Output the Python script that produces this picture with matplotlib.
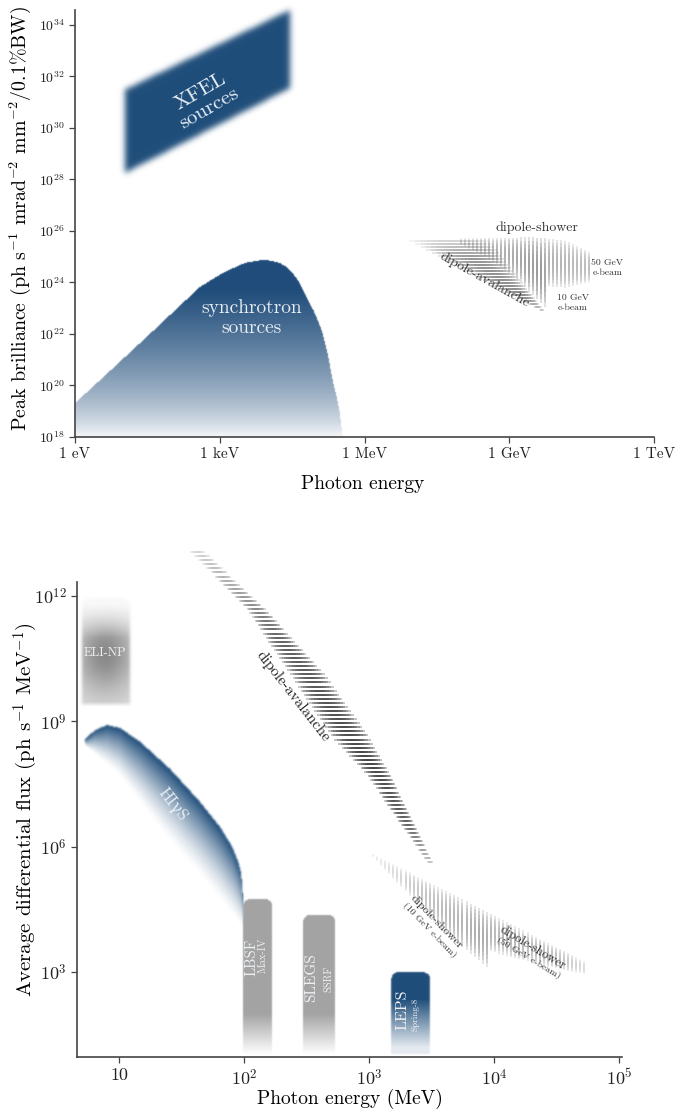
import numpy as np
import matplotlib
matplotlib.use("Agg")
import matplotlib.pyplot as plt
from matplotlib.path import Path
from matplotlib.collections import LineCollection

plt.rcParams['font.family'] = 'serif'
plt.rcParams['font.serif'] = ['cmr10']
plt.rcParams['mathtext.fontset'] = 'cm'
plt.rcParams['axes.unicode_minus'] = False
plt.rcParams['axes.formatter.use_mathtext'] = True

BLUE = np.array([31, 77, 122]) / 255.0
GRAY = np.array([0.64, 0.64, 0.64])

# ---------------- top panel: peak brilliance (log10 of eV, log10 of brilliance)
xfel_logE = [1.03, 4.45, 4.45, 1.03]
xfel_logB = [31.48, 34.58, 31.55, 28.25]

sync_logE = [0.0, 0.52, 1.55, 2.59, 3.10, 3.52, 3.87, 4.06, 4.24, 4.40, 4.51, 4.66, 4.80,
             4.96, 5.11, 5.23, 5.34, 5.42, 5.48, 5.55]
sync_logB = [19.32, 20.21, 22.0, 23.83, 24.41, 24.76, 24.87, 24.85, 24.76, 24.58, 24.37, 23.97, 23.44,
             22.85, 22.16, 21.3, 20.21, 19.6, 19.05, 18.0]

# dipole-avalanche (horizontal hatch) edges
aval1_logB = [22.95, 25.62]
aval1_left = [9.62, 6.93]
aval1_right = [9.72, 8.59]
# dipole-shower (vertical hatch) edges
shower1_top_logE = [8.0, 9.0, 9.5, 10.2, 10.66]
shower1_top_logB = [25.72, 25.74, 25.76, 25.62, 25.2]
shower1_10_logE = [8.0, 8.6, 9.2, 9.6, 9.75]
shower1_10_bot = [25.45, 24.9, 24.1, 23.3, 23.05]
shower1_50_logE = [9.8, 10.2, 10.66]
shower1_50_bot = [23.85, 23.8, 24.0]

top_xticks = [1, 1e3, 1e6, 1e9, 1e12]
top_xlabels = ['1 eV', '1 keV', '1 MeV', '1 GeV', '1 TeV']
top_yexp = [18, 20, 22, 24, 26, 28, 30, 32, 34]

# ---------------- bottom panel: average flux (log10 of MeV, log10 of flux)
eli_logE = [0.70, 1.09]
eli_logF = [9.35, 11.95]

higs_up_logE = [0.728, 0.808, 0.904, 1.008, 1.168, 1.408, 1.648, 1.808, 1.904, 1.952, 1.976, 1.990]
higs_up_logF = [8.56, 8.79, 8.91, 8.84, 8.51, 7.86, 7.07, 6.47, 6.00, 5.64, 5.35, 4.75]
higs_lo_logE = [0.728, 1.008, 1.384, 1.688, 1.992]
higs_lo_logF = [8.40, 7.67, 6.19, 5.16, 4.03]

bar_names = ['LBSF', 'SLEGS', 'LEPS']
bar_sites = ['Max-IV', 'SSRF', 'Spring-8']
bar_lo_logE = [1.992, 2.472, 3.176]
bar_hi_logE = [2.224, 2.728, 3.48]
bar_top_logF = [4.75, 4.37, 3.0]
bar_bot_logF = 1.04

aval2_logF = [13.05, 11.69, 10.11, 8.67, 7.72, 6.67, 5.64]
aval2_left = [1.57, 2.02, 2.37, 2.69, 2.98, 3.22, 3.46]
aval2_right = [1.69, 2.17, 2.65, 2.99, 3.17, 3.34, 3.51]

shower2_top_logE = [3.03, 4.73]
shower2_top_logF = [5.83, 3.24]
shower2_10_logE = [3.03, 3.3, 3.6, 3.85, 3.97]
shower2_10_bot = [5.75, 4.9, 3.95, 3.35, 3.05]
shower2_50_logE = [3.97, 4.4, 4.72]
shower2_50_bot = [3.5, 3.15, 2.95]

bot_xticks = [10, 1e2, 1e3, 1e4, 1e5]
bot_xlabels = ['10', r'$10^{2}$', r'$10^{3}$', r'$10^{4}$', r'$10^{5}$']
bot_yexp = [3, 6, 9, 12]


def disp(ax, lx, ly):
    lx = np.atleast_1d(np.asarray(lx, float))
    ly = np.atleast_1d(np.asarray(ly, float))
    return ax.transData.transform(np.column_stack([10.0**lx, 10.0**ly]))


def blur(a, s):
    if s <= 0:
        return a
    r = int(np.ceil(3 * s))
    k = np.exp(-0.5 * (np.arange(-r, r + 1) / s) ** 2)
    k /= k.sum()
    a = np.apply_along_axis(np.convolve, 0, a, k, mode='same')
    a = np.apply_along_axis(np.convolve, 1, a, k, mode='same')
    return a


def paint(ax, poly, shade, sigma=0.8, z=1):
    '''rasterise a polygon (display px) with a soft edge and a colour function'''
    pad = 3 * sigma + 3
    x0, y0 = np.floor(poly.min(0) - pad)
    x1, y1 = np.ceil(poly.max(0) + pad)
    nx, ny = int(x1 - x0), int(y1 - y0)
    X, Y = np.meshgrid(x0 + np.arange(nx) + 0.5, y0 + np.arange(ny) + 0.5)
    inside = Path(poly).contains_points(np.column_stack([X.ravel(), Y.ravel()]))
    mask = blur(inside.reshape(ny, nx).astype(float), sigma)
    rgb, a = shade(X, Y)
    img = np.zeros((ny, nx, 4))
    img[..., :3] = rgb
    img[..., 3] = np.clip(mask * a, 0, 1)
    inv = ax.transAxes.inverted()
    (fx0, fy0), (fx1, fy1) = inv.transform([[x0, y0], [x0 + nx, y0 + ny]])
    ax.imshow(img, extent=(fx0, fx1, fy0, fy1), transform=ax.transAxes,
              origin='lower', aspect='auto', interpolation='bilinear',
              zorder=z, clip_on=False)


def round_top(ax, lx0, lx1, ly0, ly1, r=7):
    (X0, Y0), (X1, Y1) = disp(ax, [lx0, lx1], [ly0, ly1])
    a1 = np.linspace(0, np.pi / 2, 12)
    a2 = np.linspace(np.pi / 2, np.pi, 12)
    pts = [(X0, Y0), (X1, Y0)]
    pts += list(zip(X1 - r + r * np.cos(a1), Y1 - r + r * np.sin(a1)))
    pts += list(zip(X0 + r + r * np.cos(a2), Y1 - r + r * np.sin(a2)))
    return np.array(pts)


def faded_lines(ax, segs, alphas, rgb, lw, n=14, z=3, power=0.6):
    segments, colors = [], []
    for ((lx0, ly0), (lx1, ly1)), a in zip(segs, alphas):
        t = np.linspace(0, 1, n + 1)
        xs = 10.0 ** (lx0 + (lx1 - lx0) * t)
        ys = 10.0 ** (ly0 + (ly1 - ly0) * t)
        for i in range(n):
            tm = 0.5 * (t[i] + t[i + 1])
            prof = np.sin(np.pi * tm) ** power
            segments.append([(xs[i], ys[i]), (xs[i + 1], ys[i + 1])])
            colors.append((*rgb, a * prof))
    lc = LineCollection(segments, colors=colors, linewidths=lw,
                        capstyle='butt', zorder=z)
    ax.add_collection(lc, autolim=False)


def style(ax, size_x, size_y):
    for s in ['top', 'right']:
        ax.spines[s].set_visible(False)
    for s in ['left', 'bottom']:
        ax.spines[s].set_color('#444444')
        ax.spines[s].set_linewidth(1.2)
    ax.xaxis.set_minor_locator(matplotlib.ticker.NullLocator())
    ax.yaxis.set_minor_locator(matplotlib.ticker.NullLocator())
    ax.tick_params(direction='out', length=4, width=0.9, color='#444444',
                   labelcolor='#222222')
    ax.tick_params(axis='x', labelsize=size_x)
    ax.tick_params(axis='y', labelsize=size_y)


fig = plt.figure(figsize=(6.76, 11.13), dpi=100)

# ======================= top panel =======================
ax1 = fig.add_axes([75 / 676, 1 - 437 / 1113, 579 / 676, 427.5 / 1113])
ax1.set_xscale('log')
ax1.set_yscale('log')
ax1.set_xlim(1, 1e12)
ax1.set_ylim(1e18, 10**34.6)
ax1.set_autoscale_on(False)
style(ax1, 11, 10)
ax1.set_xticks(top_xticks, labels=top_xlabels)
ax1.set_yticks([10.0**e for e in top_yexp], labels=[r'$10^{%d}$' % e for e in top_yexp])
ax1.set_xlabel('Photon energy', fontsize=14)
ax1.set_ylabel(r'Peak brilliance (ph s$^{-1}$ mrad$^{-2}$ mm$^{-2}$/0.1%BW)', fontsize=14.3)
ax1.xaxis.set_label_coords(0.497, -0.089)
ax1.yaxis.set_label_coords(-0.072, 0.51)

# XFEL block with blurred edges
poly = disp(ax1, xfel_logE, xfel_logB)
paint(ax1, poly, lambda X, Y: (BLUE, 1.0), sigma=3.0, z=1)

# synchrotron region, vertical gradient
poly = disp(ax1, sync_logE + [0.0], sync_logB + [18.0])
ytop = disp(ax1, [3.87], [24.87])[0, 1]
ybot = disp(ax1, [0.0], [18.0])[0, 1]
paint(ax1, poly,
      lambda X, Y: (BLUE, np.clip((Y - ybot) / (ytop - 30 - ybot), 0.02, 1) ** 0.68),
      sigma=0.6, z=1)

# dipole-avalanche horizontal hatching
lev = np.linspace(aval1_logB[0], aval1_logB[1], 24)
segs = [((np.interp(b, aval1_logB, aval1_left), b), (np.interp(b, aval1_logB, aval1_right), b)) for b in lev]
alp = np.interp(lev, [22.95, 23.5, 25.0, 25.62], [0.45, 0.85, 0.75, 0.3])
faded_lines(ax1, segs, alp, (0.3, 0.3, 0.3), 1.1)

# dipole-shower vertical hatching
pos = np.linspace(8.0, 10.66, 33)
segs, alp = [], []
for e in pos:
    top = np.interp(e, shower1_top_logE, shower1_top_logB)
    if e <= shower1_10_logE[-1]:
        bot = np.interp(e, shower1_10_logE, shower1_10_bot)
    else:
        bot = np.interp(e, shower1_50_logE, shower1_50_bot)
    segs.append(((e, top), (e, bot)))
    alp.append(np.interp(e, [8.0, 8.8, 9.7, 9.8, 10.66], [0.3, 0.6, 0.8, 0.6, 0.5]))
faded_lines(ax1, segs, alp, (0.35, 0.35, 0.35), 1.1, power=0.5)

txt = '#e6edf4'
ax1.text(10**2.69, 10**31.09, 'XFEL\nsources', rotation=30, ha='center', va='center',
         rotation_mode='anchor', fontsize=15, color=txt, linespacing=1.1, zorder=5)
ax1.text(10**3.66, 10**22.62, 'synchrotron\nsources', ha='center', va='center',
         fontsize=14, color=txt, linespacing=1.15, zorder=5)
ax1.text(10**9.58, 10**26.12, 'dipole-shower', ha='center', va='center',
         fontsize=10, color='#333333', zorder=5)
ax1.text(10**8.48, 10**24.1, 'dipole-avalanche', rotation=-29, ha='center', va='center',
         rotation_mode='anchor', fontsize=10, color='#333333', zorder=5)
ax1.text(10**11.03, 10**24.56, '50 GeV\ne-beam', ha='center', va='center',
         fontsize=7, color='#333333', zorder=5)
ax1.text(10**10.32, 10**23.2, '10 GeV\ne-beam', ha='center', va='center',
         fontsize=7, color='#333333', zorder=5)

# ======================= bottom panel =======================
ax2 = fig.add_axes([77 / 676, 1 - 1057 / 1113, 545 / 676, 515.4 / 1113])
ax2.set_xscale('log')
ax2.set_yscale('log')
ax2.set_xlim(10**0.664, 10**5.02)
ax2.set_ylim(10**0.97, 10**13.3)
ax2.set_autoscale_on(False)
style(ax2, 13, 13)
ax2.spines['left'].set_bounds(10**0.97, 10**12.33)
ax2.set_xticks(bot_xticks, labels=bot_xlabels)
ax2.set_yticks([10.0**e for e in bot_yexp], labels=[r'$10^{%d}$' % e for e in bot_yexp])
ax2.set_xlabel('Photon energy (MeV)', fontsize=14)
ax2.set_ylabel(r'Average differential flux (ph s$^{-1}$ MeV$^{-1}$)', fontsize=15)
ax2.xaxis.set_label_coords(0.50, -0.061)
ax2.yaxis.set_label_coords(-0.068, 0.48)

# ELI-NP soft grey block
poly = round_top(ax2, eli_logE[0], eli_logE[1], eli_logF[0], eli_logF[1], r=9)
(cx, cy), = disp(ax2, [0.89], [10.6])
yt = disp(ax2, [0.9], [eli_logF[1]])[0, 1]
yb = disp(ax2, [0.9], [eli_logF[0]])[0, 1]


def eli_shade(X, Y):
    g = 0.87 - 0.33 * np.exp(-((X - cx) / 30) ** 2 - ((Y - cy) / 38) ** 2)
    a = np.clip((yt - Y) / 40, 0.15, 1) * np.clip((Y - yb) / 5, 0, 1)
    return g[..., None] * np.ones(3), a


paint(ax2, poly, eli_shade, sigma=1.5, z=1)

# HIgS band, gradient from the upper edge
U = disp(ax2, higs_up_logE, higs_up_logF)
L = disp(ax2, higs_lo_logE, higs_lo_logF)
poly = np.vstack([U, L[::-1]])


def higs_shade(X, Y):
    yu = np.interp(X, U[:, 0], U[:, 1])
    yl = np.interp(X, L[:, 0], L[:, 1])
    t = np.clip((yu - Y) / np.maximum(yu - yl, 1), 0, 1)
    return BLUE, (1 - t) ** 1.4


paint(ax2, poly, higs_shade, sigma=1.0, z=1)

# facility bars
for i in range(3):
    poly = round_top(ax2, bar_lo_logE[i], bar_hi_logE[i], bar_bot_logF, bar_top_logF[i], r=7)
    yb = poly[0, 1]
    col = BLUE if bar_names[i] == 'LEPS' else GRAY
    fade = 55 if bar_names[i] == 'LEPS' else 40
    floor = 0.12 if bar_names[i] == 'LEPS' else 0.04
    paint(ax2, poly,
          lambda X, Y, yb=yb, col=col, fade=fade, floor=floor:
          (col, np.clip((Y - yb) / fade, floor, 1)),
          sigma=0.7, z=1)

bar_txt_pos = [(2.056, 3.36, 2.152, 3.41), (2.536, 2.86, 2.672, 2.84), (3.264, 2.10, 3.368, 1.98)]
bar_txt_size = [(10.5, 7.5), (11, 7.5), (11.5, 6.5)]
for i in range(3):
    lx, ly, sx, sy = bar_txt_pos[i]
    ax2.text(10**lx, 10**ly, bar_names[i], rotation=90, ha='center', va='center',
             fontsize=bar_txt_size[i][0], color='#eef1f4', zorder=5)
    ax2.text(10**sx, 10**sy, bar_sites[i], rotation=90, ha='center', va='center',
             fontsize=bar_txt_size[i][1], color='#eef1f4', zorder=5)

# dipole-avalanche hatching (bottom)
lev = np.linspace(aval2_logF[-1], aval2_logF[0], 77)
segs = [((np.interp(f, aval2_logF[::-1], aval2_left[::-1]), f),
         (np.interp(f, aval2_logF[::-1], aval2_right[::-1]), f)) for f in lev]
alp = np.interp(lev, [5.6, 6.5, 8.0, 11.0, 13.1], [0.3, 0.8, 0.95, 0.8, 0.2])
faded_lines(ax2, segs, alp, (0.22, 0.22, 0.22), 1.4, power=0.5)

# dipole-shower hatching (bottom)
pos = np.linspace(3.03, 4.72, 53)
segs, alp = [], []
for e in pos:
    top = np.interp(e, shower2_top_logE, shower2_top_logF)
    if e <= shower2_10_logE[-1]:
        bot = np.interp(e, shower2_10_logE, shower2_10_bot)
    else:
        bot = np.interp(e, shower2_50_logE, shower2_50_bot)
    segs.append(((e, top), (e, bot)))
    alp.append(np.interp(e, [3.03, 3.4, 3.9, 4.0, 4.5, 4.72], [0.12, 0.4, 0.6, 0.5, 0.45, 0.25]))
faded_lines(ax2, segs, alp, (0.4, 0.4, 0.4), 1.3, power=0.5)

ax2.text(10**0.888, 10**10.64, 'ELI-NP', ha='center', va='center', fontsize=9,
         color='#f2f2f2', zorder=5)
ax2.text(10**1.424, 10**7.0, 'HIγS', rotation=-52, ha='center', va='center',
         rotation_mode='anchor', fontsize=12, color='#e6edf4', zorder=5,
         family=['cmr10', 'DejaVu Serif'])
ax2.text(10**2.392, 10**9.61, 'dipole-avalanche', rotation=-52, ha='center', va='center',
         rotation_mode='anchor', fontsize=11, color='#222222', zorder=5)
ax2.text(10**3.536, 10**4.20, 'dipole-shower', rotation=-46, ha='center', va='center',
         rotation_mode='anchor', fontsize=8.5, color='#333333', zorder=5)
ax2.text(10**3.48, 10**4.01, '(10 GeV e-beam)', rotation=-46, ha='center', va='center',
         rotation_mode='anchor', fontsize=7, color='#333333', zorder=5)
ax2.text(10**4.304, 10**3.58, 'dipole-shower', rotation=-31, ha='center', va='center',
         rotation_mode='anchor', fontsize=9, color='#333333', zorder=5)
ax2.text(10**4.272, 10**3.34, '(50 GeV e-beam)', rotation=-31, ha='center', va='center',
         rotation_mode='anchor', fontsize=7, color='#333333', zorder=5)

fig.savefig('out.png', dpi=100)
